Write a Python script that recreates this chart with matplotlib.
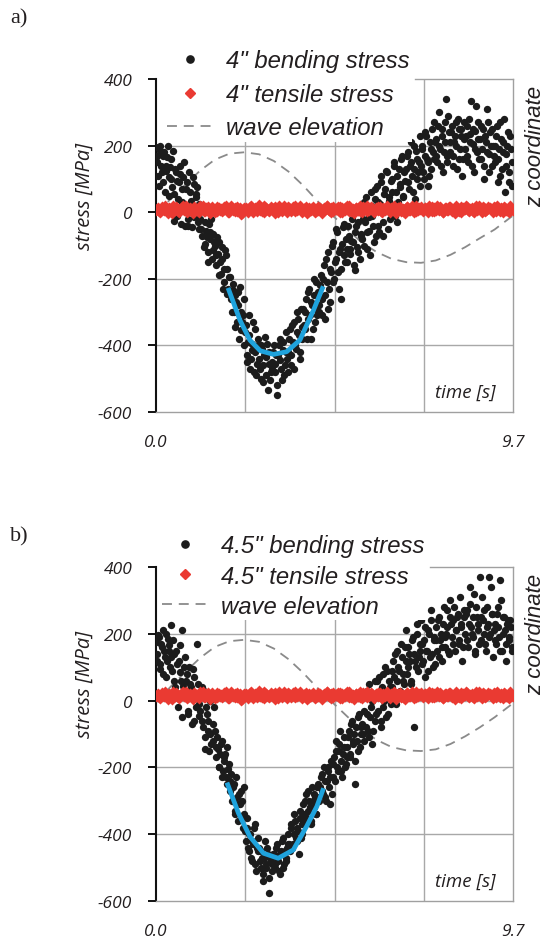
import numpy as np
import matplotlib.pyplot as plt
from matplotlib.lines import Line2D

# 4" pipe: bending stress samples [MPa], evenly spaced 0 .. 9.68 s
bend_a = [195, 150, 80, 185, 120, 170, 60, 140, 200, 105,
          160, 75, -25, 130, 95, 40, 115, -35, 70, 150,
          20, 90, -40, 60, 10, 105, -15, 45, 75, -50,
          -20, -70, 5, -95, -55, -120, -35, -80, -140, -65,
          -100, -160, -125, -90, -185, -140, -210, -115, -170, -230,
          -195, -260, -235, -300, -250, -330, -280, -225, -355, -310,
          -400, -340, -430, -370, -470, -395, -330, -420, -490, -380,
          -440, -500, -410, -460, -375, -435, -535, -420, -480, -450,
          -400, -455, -550, -430, -380, -470, -415, -490, -360, -440,
          -420, -350, -460, -390, -330, -410, -300, -370, -440, -345,
          -290, -350, -260, -320, -230, -380, -280, -250, -330, -210,
          -240, -300, -190, -260, -160, -320, -210, -120, -270, -180,
          -90, -200, -140, -60, -230, -110, -170, -45, -130, -80,
          -150, -70, -110, -20, -90, -175, -40, -120, 10, -65,
          -80, 30, -30, -110, 15, -55, 60, -10, -90, 40,
          80, -40, 25, 110, -70, 55, 5, 120, 35, -20,
          100, 20, 150, 60, -30, 130, 75, 170, 45, 95,
          130, 180, 70, 150, 110, 200, 40, 160, 120, 230,
          140, 190, 100, 240, 160, 80, 210, 130, 180, 270,
          220, 150, 300, 190, 250, 120, 210, 340, 170, 240,
          180, 260, 140, 230, 200, 280, 160, 250, 110, 220,
          190, 260, 150, 235, 335, 205, 120, 245, 180, 270,
          220, 160, 250, 100, 210, 310, 175, 240, 140, 200,
          150, 230, 90, 190, 270, 130, 210, 60, 175, 240,
          120, 190, 80]

# 4" pipe: bending stress, in-between samples 0.02 .. 9.66 s
bend_a2 = [170, 110, 200, 140, 90, 180, 125, 165, 50, 135,
           100, 185, 55, 120, -10, 90, 140, 30, 105, -40,
           70, -20, 120, 35, -45, 85, 0, 55, -30, 25,
           -50, 15, -105, -30, -75, -150, -60, -20, -115, -90,
           -130, -75, -190, -150, -105, -230, -170, -130, -245, -195,
           -240, -300, -215, -345, -270, -240, -380, -300, -330, -260,
           -360, -450, -390, -310, -440, -415, -480, -350, -455, -400,
           -470, -400, -510, -430, -490, -395, -455, -505, -470, -420,
           -480, -430, -520, -400, -445, -505, -390, -460, -420, -480,
           -380, -430, -340, -470, -400, -360, -320, -420, -290, -380,
           -340, -300, -380, -240, -310, -270, -350, -200, -290, -310,
           -280, -220, -310, -200, -250, -140, -290, -230, -170, -100,
           -210, -150, -50, -180, -120, -260, -95, -35, -150, -110,
           -40, -125, -85, 0, -160, -60, -105, -30, -140, -70,
           -20, -100, 45, -60, -15, -130, 20, -40, 70, -70,
           30, -60, 90, 15, -30, 70, 125, -50, 45, 95,
           60, 140, -10, 110, 30, 85, 160, 50, 120, 10,
           170, 90, 140, 210, 60, 130, 185, 100, 150, 80,
           200, 120, 170, 230, 150, 110, 190, 250, 160, 210,
           170, 260, 200, 140, 230, 180, 270, 150, 290, 210,
           240, 170, 210, 270, 130, 250, 190, 230, 160, 270,
           230, 170, 280, 210, 140, 250, 190, 320, 220, 160,
           260, 190, 140, 230, 180, 270, 120, 200, 250, 170,
           200, 260, 160, 110, 220, 180, 280, 140, 200, 90,
           230, 150]

# 4" pipe: tensile stress samples [MPa], 0 .. 9.7 s
tens_a = [8, 14, 2, 10, 18, 5, 12, -3, 9, 16,
          4, 11, 20, 7, 0, 13, 6, 17, 9, 1,
          12, 19, 5, 10, -2, 15, 8, 3, 14, 11,
          6, 18, 0, 9, 13, 4, 16, 7, -4, 12,
          10, 2, 17, 8, 14, 5, 21, 9, 1, 13,
          6, 15, 11, -1, 8, 18, 4, 12, 7, 16,
          3, 10, 19, 6, 13, 0, 9, 15, 5, 11,
          17, 2, 8, 14, -3, 10, 20, 6, 12, 4,
          9, 16, 1, 13, 7, 18, 5, 11, -2, 14,
          8, 3, 15, 10, 19, 6, 12, 0, 9, 17,
          4, 13, 7, 16, 2, 11, 20, 8, 14, 5,
          10, -1, 15, 6, 18, 9, 3, 12, 17, 7,
          13, 1, 10, 16, 5, 19, 8, 11, 2, 14,
          6, 17, 9, -3, 12, 4, 15, 10, 20, 7,
          11, 3, 14, 8, 18, 0, 13, 6, 16, 9,
          2, 12, 19, 5, 10, 15, 7, 1, 13, 8]

# 4" pipe: tensile stress, in-between samples
tens_a2 = [11, 4, 16, 7, 13, -1, 9, 19, 6, 12,
           2, 15, 8, 18, 5, 10, -2, 14, 7, 20,
           9, 3, 13, 17, 6, 11, 0, 15, 8, 4,
           16, 10, 2, 19, 7, 12, 5, 14, -3, 9,
           13, 6, 18, 1, 11, 16, 8, 3, 20, 10,
           5, 14, 9, 17, 2, 12, 7, 19, 0, 13,
           8, 15, 4, 11, 18, 6, 10, -1, 14, 7,
           12, 5, 16, 9, 3, 13, 19, 8, 1, 15,
           10, 6, 17, 2, 12, 9, 20, 4, 11, 14,
           7, 18, 0, 13, 5, 10, 16, 3, 12, 8,
           15, 1, 11, 19, 6, 14, 9, -2, 13, 17,
           4, 10, 16, 7, 12, 2, 18, 8, 11, 5,
           14, 9, 20, 3, 13, 6, 10, 17, 0, 12,
           7, 15, 4, 11, 19, 8, 2, 14, 9, 16,
           5, 12, 1, 18, 10, 6, 15, 3, 11, 13,
           8, 17, 4, 10, 14, 0, 12, 7, 18, 9]

# 4.5" pipe: bending stress samples [MPa]
bend_b = [175, 120, 190, 95, 160, 210, 130, 70, 185, 150,
          225, 90, 140, 40, 110, -20, 165, 60, -50, 100,
          30, 80, -40, 50, 10, 95, -60, 20, 170, -10,
          -30, 40, -80, -145, -20, -60, -150, -100, 15, -120,
          -90, -170, -145, -200, -130, -230, -180, -160, -250, -205,
          -270, -220, -300, -250, -330, -290, -360, -310, -270, -380,
          -340, -420, -380, -450, -400, -480, -430, -370, -510, -450,
          -440, -500, -470, -540, -420, -490, -460, -575, -480, -510,
          -460, -500, -430, -480, -520, -450, -410, -490, -470, -440,
          -400, -450, -370, -430, -340, -410, -380, -460, -350, -400,
          -310, -360, -280, -330, -300, -370, -260, -320, -290, -340,
          -250, -300, -230, -270, -200, -290, -240, -210, -310, -180,
          -230, -170, -120, -200, -150, -90, -210, -160, -110, -190,
          -140, -90, -170, -60, -120, -250, -80, -150, -40, -100,
          -70, -120, 20, -40, -90, 50, -20, -130, 10, -60,
          60, -30, 30, -80, 80, 0, -50, 90, 20, 40,
          40, 120, 70, -10, 150, 90, 30, 130, 60, 160,
          210, 100, 140, 50, 180, -80, 120, 200, 90, 150,
          240, 110, 180, 70, 150, 210, 130, 270, 100, 190,
          220, 150, 250, 180, 120, 230, 160, 200, 270, 140,
          300, 190, 240, 150, 210, 260, 170, 230, 120, 250,
          200, 270, 160, 340, 220, 190, 320, 140, 250, 210,
          370, 180, 240, 270, 150, 220, 370, 200, 260, 130,
          230, 170, 280, 190, 360, 150, 250, 210, 120, 240,
          180, 220, 150]

# 4.5" pipe: bending stress, in-between samples
bend_b2 = [140, 195, 110, 170, 80, 150, 200, 120, 165, 100,
           130, 180, 60, 150, 20, 120, 85, 210, 45, 130,
           60, -30, 100, 40, -70, 70, 15, -20, 50, -45,
           10, -60, 30, -110, -40, -90, 0, -130, -70, -20,
           -140, -110, -200, -160, -120, -210, -170, -230, -140, -190,
           -240, -300, -260, -340, -230, -310, -280, -350, -300, -260,
           -390, -350, -440, -400, -470, -420, -380, -490, -440, -410,
           -480, -450, -520, -470, -500, -440, -530, -470, -490, -460,
           -490, -440, -470, -510, -460, -420, -500, -450, -480, -430,
           -430, -380, -440, -400, -360, -420, -390, -330, -410, -370,
           -340, -300, -350, -270, -320, -360, -300, -280, -340, -260,
           -290, -260, -220, -280, -240, -300, -200, -260, -230, -280,
           -190, -240, -150, -210, -130, -180, -230, -140, -200, -170,
           -110, -160, -70, -130, -100, -180, -120, -50, -140, -80,
           -100, -30, -80, 30, -110, -50, 0, -90, 60, -40,
           10, 70, -60, 40, -20, 100, 20, -40, 60, -10,
           90, 20, 140, 60, 100, 10, 170, 80, 50, 120,
           80, 160, 120, 60, 190, 140, 100, 230, 130, 170,
           170, 120, 220, 150, 90, 200, 240, 140, 180, 110,
           180, 240, 130, 200, 160, 280, 190, 220, 150, 250,
           230, 170, 280, 210, 250, 180, 310, 220, 160, 270,
           260, 180, 230, 290, 200, 250, 150, 280, 230, 170,
           250, 310, 200, 170, 280, 230, 190, 340, 260, 210,
           180, 260, 220, 150, 300, 200, 250, 170, 230, 190,
           240, 160]

# 4.5" pipe: tensile stress samples [MPa]
tens_b = [15, 21, 9, 17, 25, 12, 19, 4, 16, 23,
          11, 18, 27, 14, 7, 20, 13, 24, 16, 8,
          19, 26, 12, 17, 5, 22, 15, 10, 21, 18,
          13, 25, 7, 16, 20, 11, 23, 14, 3, 19,
          17, 9, 24, 15, 21, 12, 28, 16, 8, 20,
          13, 22, 18, 6, 15, 25, 11, 19, 14, 23,
          10, 17, 26, 13, 20, 7, 16, 22, 12, 18,
          24, 9, 15, 21, 4, 17, 27, 13, 19, 11,
          16, 23, 8, 20, 14, 25, 12, 18, 5, 21,
          15, 10, 22, 17, 26, 13, 19, 7, 16, 24,
          11, 20, 14, 23, 9, 18, 27, 15, 21, 12,
          17, 6, 22, 13, 25, 16, 10, 19, 24, 14,
          20, 8, 17, 23, 12, 26, 15, 18, 9, 21,
          13, 24, 16, 4, 19, 11, 22, 17, 27, 14,
          18, 10, 21, 15, 25, 7, 20, 13, 23, 16,
          9, 19, 26, 12, 17, 22, 14, 8, 20, 15]

# 4.5" pipe: tensile stress, in-between samples
tens_b2 = [18, 11, 23, 14, 20, 6, 16, 26, 13, 19,
           9, 22, 15, 25, 12, 17, 5, 21, 14, 27,
           16, 10, 20, 24, 13, 18, 7, 22, 15, 11,
           23, 17, 9, 26, 14, 19, 12, 21, 4, 16,
           20, 13, 25, 8, 18, 23, 15, 10, 27, 17,
           12, 21, 16, 24, 9, 19, 14, 26, 7, 20,
           15, 22, 11, 18, 25, 13, 17, 6, 21, 14,
           19, 12, 23, 16, 10, 20, 26, 15, 8, 22,
           17, 13, 24, 9, 19, 16, 27, 11, 18, 21,
           14, 25, 7, 20, 12, 17, 23, 10, 19, 15,
           22, 8, 18, 26, 13, 21, 16, 5, 20, 24,
           11, 17, 23, 14, 19, 9, 25, 15, 18, 12,
           21, 16, 27, 10, 20, 13, 17, 24, 7, 19,
           14, 22, 11, 18, 26, 15, 9, 21, 16, 23,
           12, 19, 8, 25, 17, 13, 22, 10, 18, 20,
           15, 24, 11, 17, 21, 7, 19, 14, 25, 16]

# wave elevation (drawn on the stress scale)
wave_t = [0, 0.4, 0.8, 1.2, 1.6, 2.0, 2.4, 2.8, 3.2, 3.6, 4.0, 4.4, 4.8,
          5.2, 5.6, 6.0, 6.4, 6.8, 7.2, 7.6, 8.0, 8.4, 8.8, 9.2, 9.7]
wave_a = [-5, 40, 83, 125, 158, 176, 180, 174, 154, 122, 80, 32, -10,
          -52, -92, -120, -140, -150, -152, -145, -128, -105, -78, -52, -10]
wave_b = [-6, 42, 86, 128, 161, 178, 182, 176, 156, 124, 83, 36, -6,
          -48, -88, -118, -139, -149, -151, -146, -130, -107, -80, -50, -8]

# fitted curve at the stress trough
fit_t_a = [1.98, 2.28, 2.55, 2.83, 3.19, 3.55, 3.91, 4.28, 4.52]
fit_a = [-234, -324, -384, -416, -427, -419, -384, -294, -229]
fit_t_b = [1.95, 2.24, 2.55, 2.92, 3.32, 3.73, 4.09, 4.37, 4.53]
fit_b = [-252, -337, -407, -457, -472, -447, -377, -317, -269]

yticks = [-600, -400, -200, 0, 200, 400]
ylabels = ['-600', '-400', '-200', '0', '200', '400']
xticks = [0, 2.425, 4.85, 7.275, 9.7]
xlabels = ['0.0', '', '', '', '9.7']

names_a = ['4" bending stress', '4" tensile stress', 'wave elevation']
names_b = ['4.5" bending stress', '4.5" tensile stress', 'wave elevation']

BLACK = '#1c1c1c'
RED = '#ea3a32'
BLUE = '#1fa3dd'
GREY = '#8a8a8a'
GRID = '#a8a8a8'
TXT = '#231f20'

fig = plt.figure(figsize=(5.47, 9.45), dpi=100)
ax_a = fig.add_axes([156/547, 1-413/945, 357/547, 333/945])
ax_b = fig.add_axes([156/547, 1-902/945, 357/547, 334/945])


def draw(ax, bend, bend2, tens, tens2, wave, ft, fv, names, anchor, spacing, top_from):
    tb = np.linspace(0, 9.68, len(bend))
    tb2 = np.linspace(0.02, 9.66, len(bend2))
    tt = np.linspace(0, 9.7, len(tens))
    tt2 = np.linspace(0.03, 9.67, len(tens2))

    for v in yticks[1:-1]:
        ax.axhline(v, color=GRID, lw=1, zorder=0.5)
    for x in xticks[1:-1]:
        ax.axvline(x, color=GRID, lw=1, zorder=0.5)

    ax.plot(wave_t, wave, ls=(0, (5.5, 3.8)), color=GREY, lw=1.3, zorder=2)
    ax.scatter(tb, bend, s=28, color=BLACK, lw=0, zorder=3)
    ax.scatter(tb2, bend2, s=28, color=BLACK, lw=0, zorder=3)
    ax.plot(ft, fv, color=BLUE, lw=3.4, zorder=4, solid_joinstyle='round')
    ax.plot(tt, tens, ls='none', marker='D', ms=6.3, color=RED, mec='none', zorder=5)
    ax.plot(tt2, tens2, ls='none', marker='D', ms=6.3, color=RED, mec='none', zorder=5)

    ax.set_xlim(0, 9.7)
    ax.set_ylim(-600, 400)
    ax.set_yticks(yticks)
    ax.set_yticklabels(ylabels, fontfamily='Open Sans', fontstyle='italic',
                       fontsize=12.5, color=TXT)
    ax.set_xticks(xticks)
    ax.set_xticklabels(xlabels, fontfamily='Open Sans', fontstyle='italic',
                       fontsize=12.5, color=TXT)
    ax.tick_params(axis='x', length=0, pad=16)
    ax.tick_params(axis='y', length=6, width=1.4, color='#111111', pad=11)
    for s in ['top', 'right', 'bottom']:
        ax.spines[s].set_color('#a0a0a0')
        ax.spines[s].set_linewidth(1)
    ax.spines['top'].set_bounds(top_from, 9.7)
    ax.spines['left'].set_color('#111111')
    ax.spines['left'].set_linewidth(1.5)

    ax.text(-0.199, 0.65, 'stress [MPa]', transform=ax.transAxes, rotation=90,
            ha='center', va='center', fontsize=14.5, fontfamily='Open Sans',
            fontstyle='italic', color=TXT)
    ax.text(1.062, 0.80, 'z coordinate', transform=ax.transAxes, rotation=90,
            ha='center', va='center', fontsize=16, fontfamily='Liberation Sans',
            fontstyle='italic', color=TXT)
    ax.text(0.866, 0.06, 'time [s]', transform=ax.transAxes, ha='center',
            va='center', fontsize=13.5, fontfamily='Open Sans',
            fontstyle='italic', color=TXT)

    handles = [Line2D([], [], ls='none', marker='o', ms=5.2, color=BLACK),
               Line2D([], [], ls='none', marker='D', ms=4.8, color=RED),
               Line2D([], [], ls=(0, (5.5, 3.8)), lw=1.3, color=GREY)]
    leg = ax.legend(handles, names, loc='upper left', bbox_to_anchor=anchor,
                    bbox_transform=fig.transFigure, frameon=True,
                    facecolor='white', edgecolor='none', framealpha=1,
                    fancybox=False, borderpad=0.1, borderaxespad=0,
                    handlelength=1.9, handletextpad=0.55, labelspacing=spacing,
                    prop={'family': 'Liberation Sans', 'style': 'italic', 'size': 17.2})
    for t in leg.get_texts():
        t.set_color(TXT)


draw(ax_a, bend_a, bend_a2, tens_a, tens_a2, wave_a, fit_t_a, fit_a, names_a,
     (165/547, 1-48/945), 0.44, 7.04)
draw(ax_b, bend_b, bend_b2, tens_b, tens_b2, wave_b, fit_t_b, fit_b, names_b,
     (160/547, 1-533/945), 0.3, 7.44)

fig.text(10/547, 1-19/945, 'a)', fontfamily='Liberation Serif', fontsize=16,
         va='center', ha='left', color=TXT)
fig.text(10/547, 1-537/945, 'b)', fontfamily='Liberation Serif', fontsize=16,
         va='center', ha='left', color=TXT)

fig.savefig('out.png', dpi=100)
